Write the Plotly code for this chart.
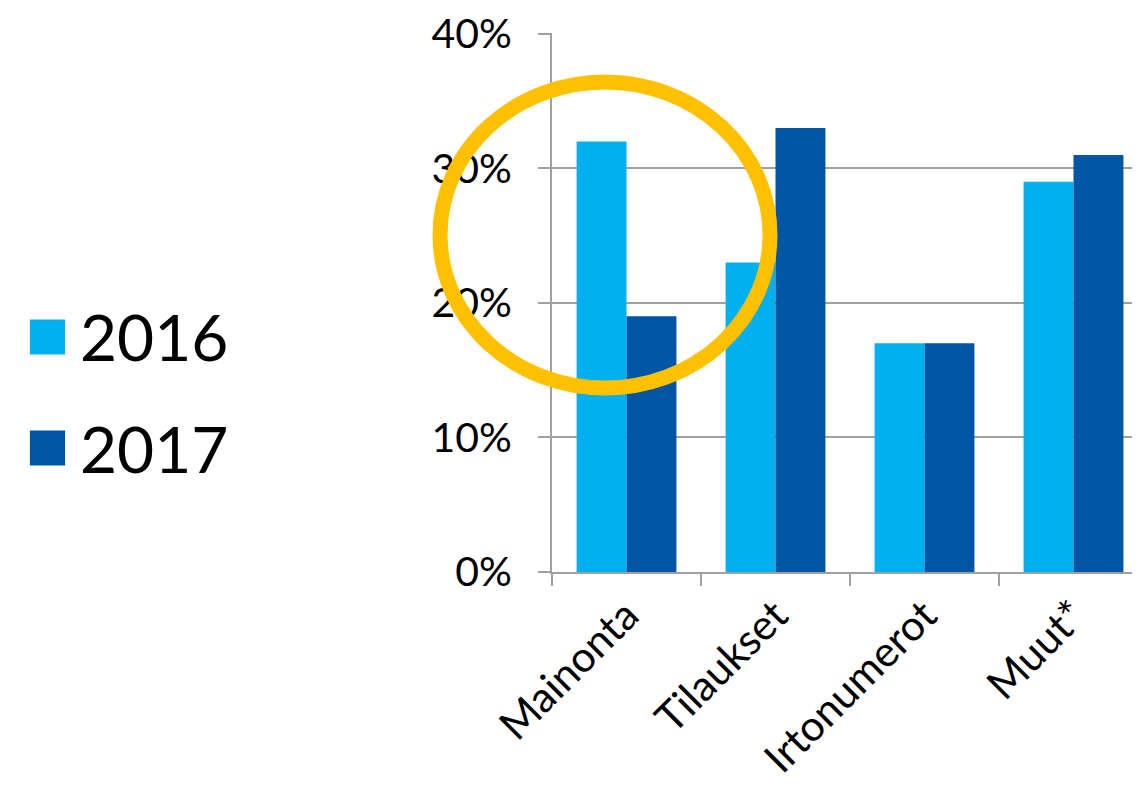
import plotly.graph_objects as go

# data
categories = ["Mainonta", "Tilaukset", "Irtonumerot", "Muut*"]
years = ["2016", "2017"]
values_2016 = [0.32, 0.23, 0.17, 0.29]
values_2017 = [0.19, 0.33, 0.17, 0.31]
y_ticks = [0, 0.1, 0.2, 0.3, 0.4]

colors = {"2016": "#00B0F0", "2017": "#0055A5"}
font_family = "Lato, 'Noto Sans', sans-serif"

fig = go.Figure()
for year, vals in zip(years, [values_2016, values_2017]):
    fig.add_trace(go.Bar(
        x=categories,
        y=vals,
        name=year,
        marker=dict(color=colors[year], line=dict(width=0)),
        showlegend=False,
    ))

# legend drawn by hand so the squares and text can be large
for i, year in enumerate(years):
    yc = 0.436 - i * 0.206
    fig.add_shape(type="rect", xref="paper", yref="paper",
                  x0=-0.876, x1=-0.817, y0=yc - 0.0325, y1=yc + 0.0325,
                  fillcolor=colors[year], line=dict(width=0), layer="above")
    fig.add_annotation(x=-0.795, y=yc, xref="paper", yref="paper",
                       text=year, showarrow=False, xanchor="left", yanchor="middle",
                       font=dict(size=64, color="black", family=font_family))

# highlight ring around Mainonta (paper coords so it is not clipped)
fig.add_shape(type="circle", xref="paper", yref="paper",
              x0=-0.1879, x1=0.3658, y0=0.3414, y1=0.9091,
              line=dict(color="#FFC000", width=15), layer="above")

fig.update_layout(
    width=1140, height=798,
    margin=dict(l=544, r=0, t=25, b=234),
    barmode="group",
    bargap=0.33,
    bargroupgap=0,
    plot_bgcolor="white",
    paper_bgcolor="white",
    font=dict(family=font_family, color="black"),
)
fig.update_xaxes(
    automargin=False,
    showline=True, linecolor="#A0A0A0", linewidth=2,
    ticks="outside", tickson="boundaries", ticklen=12, tickcolor="#A0A0A0", tickwidth=2,
    tickangle=-45, tickfont=dict(size=42),
    showgrid=False,
)
fig.update_yaxes(
    range=[0, 0.4006], automargin=False,
    tickvals=y_ticks, tickformat=".0%",
    ticklabeloverflow="allow",
    showline=True, linecolor="#A0A0A0", linewidth=2,
    ticks="outside", ticklen=12, tickcolor="#A0A0A0", tickwidth=2,
    ticklabelstandoff=18,
    tickfont=dict(size=41),
    showgrid=True, gridcolor="#A0A0A0", gridwidth=2,
    zeroline=False,
)

fig.write_html("out.html")
